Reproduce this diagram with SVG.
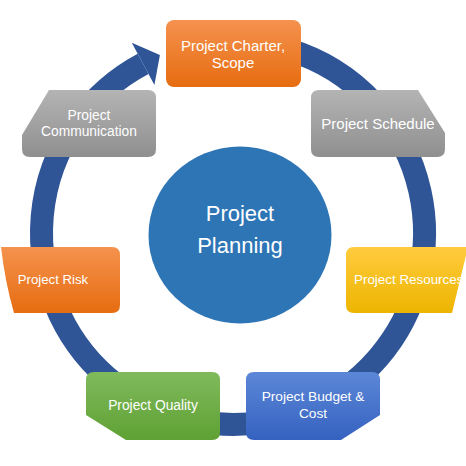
<svg xmlns="http://www.w3.org/2000/svg" width="466" height="466" viewBox="0 0 466 466">
  <style>
    .lbl { font-family: "Liberation Sans", Arial, sans-serif; fill: #ffffff; text-anchor: middle; }
    .ring { fill: none; stroke: #2F5597; stroke-width: 23; stroke-linecap: butt; }
    .head { fill: #2F5597; }
  </style>
  <defs>
    <linearGradient id="gOrange" x1="0" y1="0" x2="0" y2="1">
      <stop offset="0" stop-color="#F5924E"/>
      <stop offset="1" stop-color="#E66C10"/>
    </linearGradient>
    <linearGradient id="gGray" x1="0" y1="0" x2="0" y2="1">
      <stop offset="0" stop-color="#B4B4B4"/>
      <stop offset="1" stop-color="#8F8F8F"/>
    </linearGradient>
    <linearGradient id="gYellow" x1="0" y1="0" x2="0" y2="1">
      <stop offset="0" stop-color="#FFCB3E"/>
      <stop offset="1" stop-color="#EDB500"/>
    </linearGradient>
    <linearGradient id="gBlue" x1="0" y1="0" x2="0" y2="1">
      <stop offset="0" stop-color="#5C87D7"/>
      <stop offset="1" stop-color="#3562C0"/>
    </linearGradient>
    <linearGradient id="gGreen" x1="0" y1="0" x2="0" y2="1">
      <stop offset="0" stop-color="#80BA5C"/>
      <stop offset="1" stop-color="#5FA134"/>
    </linearGradient>
  </defs>

  <g id="connectors">
    <path class="ring" d="M199.7,44.4 A191.5,191.5 0 1 1 143.1,63.9"/>
    <polygon class="head" points="131.8,42.7 159.9,55 154.4,85.1"/>
  </g>

  <g id="center">
    <ellipse cx="240" cy="235" rx="91.5" ry="88.5" fill="#2E75B6"/>
    <text class="lbl" x="240" y="221" font-size="22">Project</text>
    <text class="lbl" x="240" y="253" font-size="22">Planning</text>
  </g>

  <g id="node-charter">
    <rect x="166" y="20" width="135" height="67" rx="8" fill="url(#gOrange)"/>
    <text class="lbl" x="233" y="51" font-size="15">Project Charter,</text>
    <text class="lbl" x="233" y="68" font-size="15">Scope</text>
  </g>

  <g id="node-schedule">
    <path d="M319,90 H418 L445,133 V149 Q445,157 437,157 H319 Q311,157 311,149 V98 Q311,90 319,90 Z" fill="url(#gGray)"/>
    <text class="lbl" x="378" y="129" font-size="15">Project Schedule</text>
  </g>

  <g id="node-resources">
    <path d="M354,247 H468 L452,313 H354 Q346,313 346,305 V255 Q346,247 354,247 Z" fill="url(#gYellow)"/>
    <text class="lbl" x="354" y="284" font-size="13.4" style="text-anchor:start">Project Resources</text>
  </g>

  <g id="node-budget">
    <path d="M254,372 H372 Q380,372 380,380 V415 L341,440 H254 Q246,440 246,432 V380 Q246,372 254,372 Z" fill="url(#gBlue)"/>
    <text class="lbl" x="313" y="401" font-size="13.7">Project Budget &amp;</text>
    <text class="lbl" x="313" y="418" font-size="13.7">Cost</text>
  </g>

  <g id="node-quality">
    <path d="M94,372 H212 Q220,372 220,380 V432 Q220,440 212,440 H126 L86,415 V380 Q86,372 94,372 Z" fill="url(#gGreen)"/>
    <text class="lbl" x="153" y="410" font-size="13.8">Project Quality</text>
  </g>

  <g id="node-risk">
    <path d="M1,247 H112 Q120,247 120,255 V305 Q120,313 112,313 H14 Q5,282 1,247 Z" fill="url(#gOrange)"/>
    <text class="lbl" x="53" y="284" font-size="13.2">Project Risk</text>
  </g>

  <g id="node-communication">
    <path d="M49,90 H148 Q156,90 156,98 V149 Q156,157 148,157 H30 Q22,157 22,149 V135 L49,90 Z" fill="url(#gGray)"/>
    <text class="lbl" x="89" y="120" font-size="13.8">Project</text>
    <text class="lbl" x="89" y="136" font-size="13.8">Communication</text>
  </g>
</svg>
